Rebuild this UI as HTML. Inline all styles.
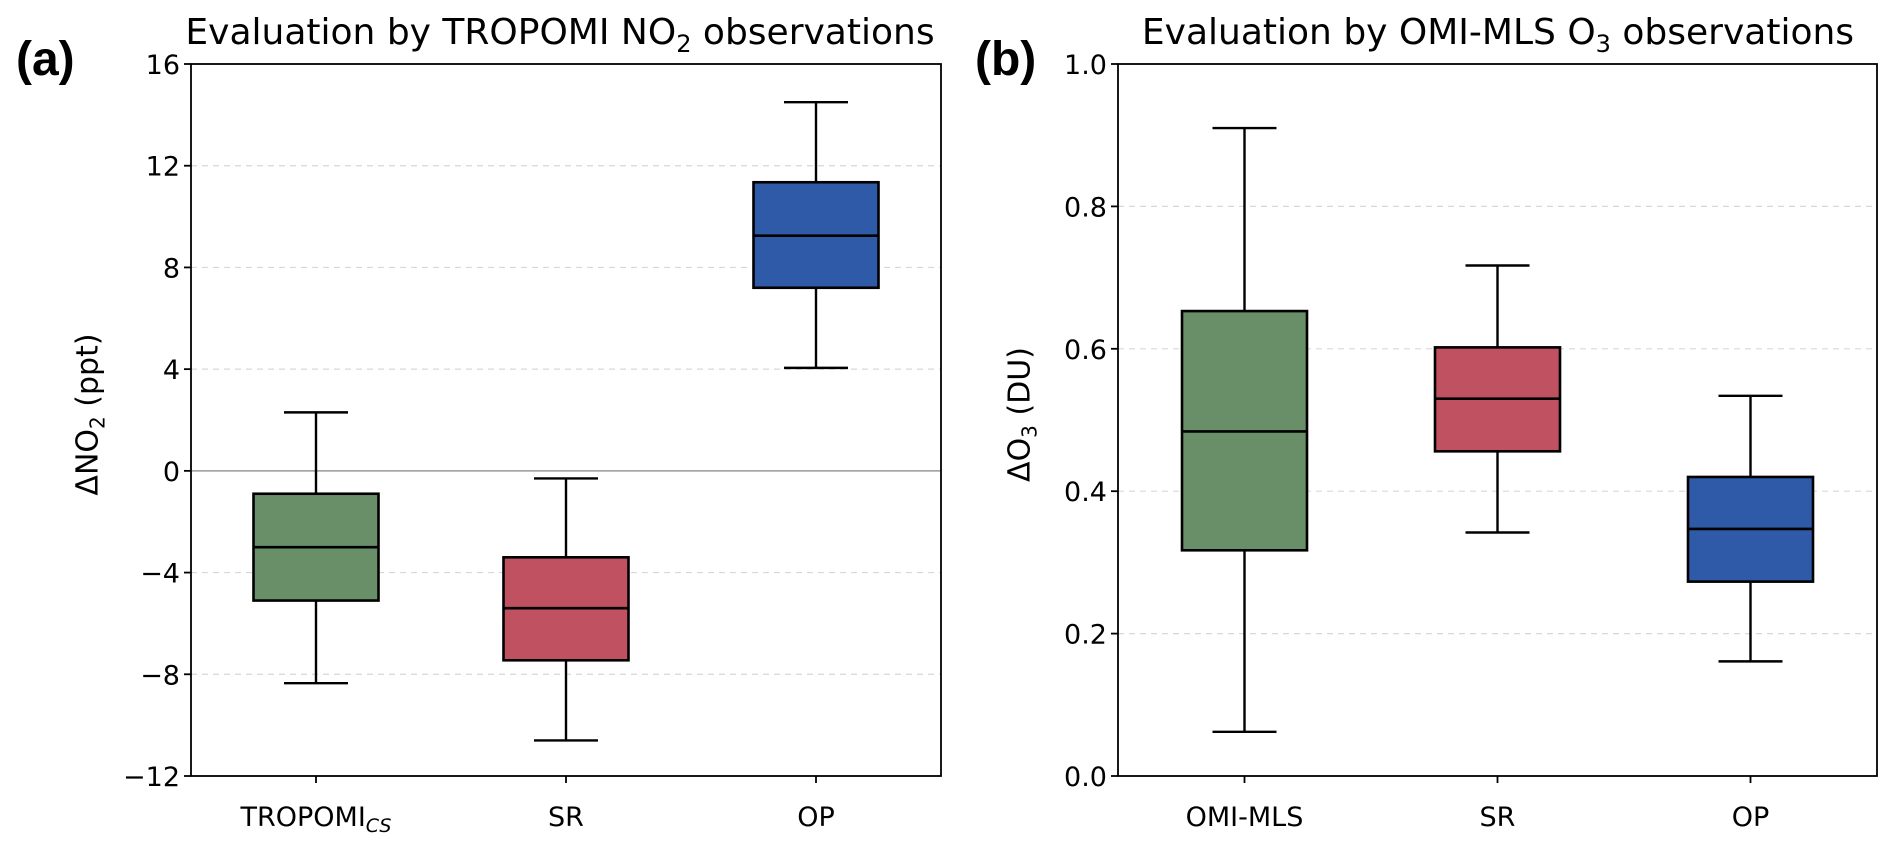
<!DOCTYPE html>
<html><head><meta charset="utf-8"><style>
body{margin:0;background:#fff;}
svg{display:block;font-family:"DejaVu Sans","Liberation Sans",sans-serif;}
</style></head><body>
<svg id="fig" width="1892" height="852" viewBox="0 0 1892 852"></svg>
<script>
const catsA=["TROPOMI","SR","OP"];
const whiskHiA=[2.3,-0.3,14.5];
const q3A=[-0.9,-3.4,11.35];
const medA=[-3.0,-5.4,9.25];
const q1A=[-5.1,-7.45,7.2];
const whiskLoA=[-8.35,-10.6,4.05];
const ticksA=[-12,-8,-4,0,4,8,12,16];
const catsB=["OMI-MLS","SR","OP"];
const whiskHiB=[0.91,0.717,0.534];
const q3B=[0.653,0.602,0.42];
const medB=[0.484,0.53,0.347];
const q1B=[0.317,0.456,0.273];
const whiskLoB=[0.062,0.342,0.161];
const ticksB=[0.0,0.2,0.4,0.6,0.8,1.0];
const colors=["#698f69","#c05160","#2e5aa8"];
const NS="http://www.w3.org/2000/svg";
const svg=document.getElementById('fig');
function mk(tag,attrs,parent,text){const e=document.createElementNS(NS,tag);for(const k in attrs)e.setAttribute(k,attrs[k]);if(text!==undefined)e.textContent=text;(parent||svg).appendChild(e);return e;}
function panel(o){
  const g=mk('g',{});
  
  
  const y=v=>o.y1-(v-o.min)/(o.max-o.min)*(o.y1-o.y0);
  const x=i=>o.x0+(o.x1-o.x0)*(i+0.5)/3;
  o.ticks.forEach(t=>{
    if(t!==o.min&&t!==o.max&&!(o.zero&&t===0)){const gl=mk('line',{x1:o.x0,x2:o.x1,y1:y(t),y2:y(t),stroke:'#d8d8d8','stroke-dasharray':'6,5','stroke-width':1.2},g);
    }
    mk('line',{x1:o.x0-7,x2:o.x0,y1:y(t),y2:y(t),stroke:'#000','stroke-width':1.8},g);
    const tl=mk('text',{x:o.x0-11,y:y(t)+10,'text-anchor':'end','font-size':27},g,o.fmt(t));
    
  });
  if(o.zero){const z=mk('line',{x1:o.x0,x2:o.x1,y1:y(0),y2:y(0),stroke:'#999','stroke-width':1.5},g);}
  const bw=125,cw=64;
  for(let i=0;i<3;i++){
    const cx=x(i);
    const b=mk('g',{},g);
    
    
    mk('line',{x1:cx,x2:cx,y1:y(o.hi[i]),y2:y(o.q3[i]),stroke:'#000','stroke-width':2.4},b);
    mk('line',{x1:cx,x2:cx,y1:y(o.q1[i]),y2:y(o.lo[i]),stroke:'#000','stroke-width':2.4},b);
    mk('line',{x1:cx-cw/2,x2:cx+cw/2,y1:y(o.hi[i]),y2:y(o.hi[i]),stroke:'#000','stroke-width':2.4},b);
    mk('line',{x1:cx-cw/2,x2:cx+cw/2,y1:y(o.lo[i]),y2:y(o.lo[i]),stroke:'#000','stroke-width':2.4},b);
    mk('rect',{x:cx-bw/2,y:y(o.q3[i]),width:bw,height:y(o.q1[i])-y(o.q3[i]),fill:colors[i],stroke:'#000','stroke-width':2.6},b);
    mk('line',{x1:cx-bw/2,x2:cx+bw/2,y1:y(o.med[i]),y2:y(o.med[i]),stroke:'#000','stroke-width':2.6},b);
    mk('line',{x1:cx,x2:cx,y1:o.y1,y2:o.y1+7,stroke:'#000','stroke-width':1.8},g);
    const xl=mk('text',{x:cx,y:o.y1+50,'text-anchor':'middle','font-size':27},g);
    
    xl.textContent=o.cats[i];
    if(o.sub&&i===0){mk('tspan',{'font-size':19,'font-style':'italic',dy:6},xl,'CS');}
  }
  const fr=mk('rect',{x:o.x0,y:o.y0,width:o.x1-o.x0,height:o.y1-o.y0,fill:'none',stroke:'#000','stroke-width':1.8},g);
  
}
panel({name:'panel-a',x0:191,x1:941,y0:64,y1:776,min:-12,max:16,ticks:ticksA,cats:catsA,hi:whiskHiA,q3:q3A,med:medA,q1:q1A,lo:whiskLoA,fmt:t=>t<0?'\u2212'+(-t):String(t),zero:true,sub:true});
panel({name:'panel-b',x0:1118,x1:1877,y0:64,y1:776,min:0,max:1,ticks:ticksB,cats:catsB,hi:whiskHiB,q3:q3B,med:medB,q1:q1B,lo:whiskLoB,fmt:t=>t.toFixed(1),zero:false,sub:false});
</script>
<div style="position:absolute;left:0;top:0;width:1892px;height:852px;pointer-events:none;font-family:'DejaVu Sans','Liberation Sans',sans-serif;">
<div style="position:absolute;left:16px;top:32px;font-size:48px;font-weight:bold;font-family:'Liberation Sans',sans-serif;">(a)</div>
<div style="position:absolute;left:975px;top:32px;font-size:48px;font-weight:bold;font-family:'Liberation Sans',sans-serif;">(b)</div>
<div style="position:absolute;left:160px;width:800px;text-align:center;top:12px;font-size:36px;white-space:nowrap;">Evaluation by TROPOMI NO<sub style="font-size:24px;">2</sub> observations</div>
<div style="position:absolute;left:1098px;width:800px;text-align:center;top:12px;font-size:36px;white-space:nowrap;">Evaluation by OMI-MLS O<sub style="font-size:24px;">3</sub> observations</div>
<div style="position:absolute;left:-60px;top:395px;width:300px;text-align:center;font-size:30px;transform:rotate(-90deg);white-space:nowrap;">ΔNO<sub style="font-size:20px;">2</sub> (ppt)</div>
<div style="position:absolute;left:872px;top:395px;width:300px;text-align:center;font-size:30px;transform:rotate(-90deg);white-space:nowrap;">ΔO<sub style="font-size:20px;">3</sub> (DU)</div>
</div>
</body></html>
